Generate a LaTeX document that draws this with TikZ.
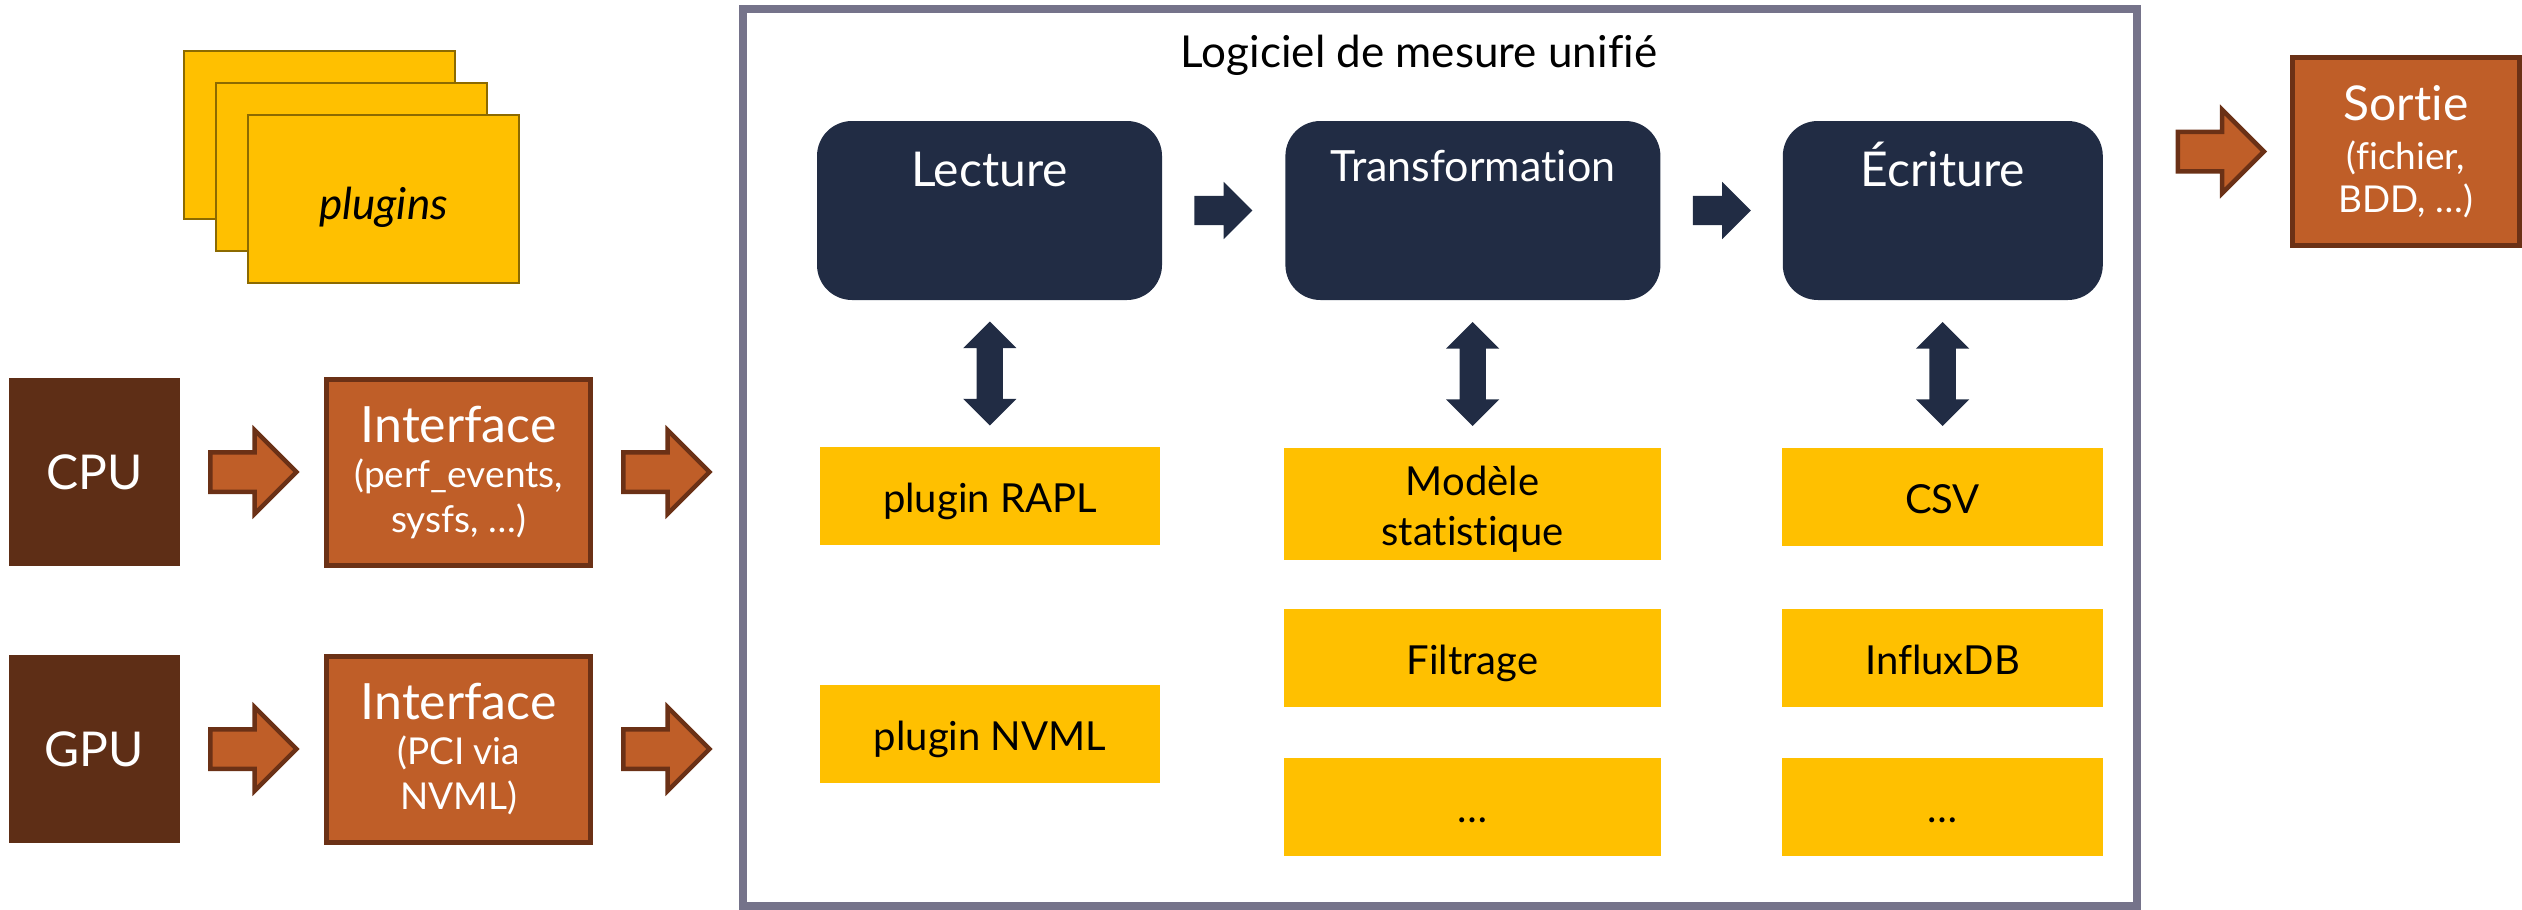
\documentclass[tikz,border=0pt]{standalone}
\usepackage{fontspec}
\setmainfont{Lato}[Ligatures=NoCommon]
\usetikzlibrary{positioning,shapes.arrows,calc}

\definecolor{navy}{HTML}{212C44}
\definecolor{rust}{HTML}{BF5E28}
\definecolor{rustdark}{HTML}{6B3116}
\definecolor{chip}{HTML}{5E2E16}
\definecolor{amber}{HTML}{FFC000}
\definecolor{amberline}{HTML}{8C6A00}
\definecolor{framegray}{HTML}{75738A}
\newcommand{\fsz}[2]{\fontsize{#1}{#2}\selectfont}

\begin{document}
\begin{tikzpicture}[x=1pt,y=-1pt,
		hw/.style={rectangle,fill=chip,text=white,minimum width=171pt,minimum height=188pt,inner sep=0pt,font=\fsz{48}{58}},
		iface/.style={rectangle,draw=rustdark,line width=5pt,fill=rust,text=white,minimum width=264pt,minimum height=186pt,inner sep=0pt,align=center,font=\fsz{37}{45}},
		stage/.style={rectangle,rounded corners=35pt,fill=navy,minimum height=179pt,inner sep=0pt},
		stagelabel/.style={anchor=base,text=white,inner sep=0pt},
		plugbase/.style={rectangle,fill=amber,minimum height=98pt,inner sep=0pt,align=center,font=\fsz{40}{50}},
		plug/.style={plugbase,text height=40pt,text depth=8pt},
		card/.style={rectangle,fill=amber,draw=amberline,line width=1.5pt,minimum width=271pt,minimum height=168pt,inner sep=0pt},
		fatarrow/.style={single arrow,fill=rust,draw=rustdark,line width=4.5pt,inner xsep=0pt,inner ysep=17.5pt,minimum height=86pt,minimum width=79pt,single arrow head extend=22pt},
		navarrow/.style={single arrow,fill=navy,inner xsep=0pt,inner ysep=14.5pt,minimum height=58pt,minimum width=57pt,single arrow head extend=14pt},
		updown/.style={double arrow,rotate=90,fill=navy,inner xsep=0pt,inner ysep=13pt,minimum height=104pt,minimum width=53pt,double arrow head extend=13.5pt}]
	\useasboundingbox (0,0) rectangle (2522,910);

	\node[draw=framegray,line width=8pt,minimum width=1394pt,minimum height=897pt,
		label={[anchor=base,inner sep=0pt,font=\fsz{44}{53},xshift=-21pt,yshift=-62pt]north:Logiciel de mesure unifié}] (frame) at (1440,457.5) {};

	\node[card]					(card1)	at (319.5,135)	{};
	\node[card]					(card2)	at ($(card1)+(32,32)$)	{};
	\node[card,font=\fsz{44}{52}\itshape,text height=48pt,text depth=8pt]	(card3)	at ($(card2)+(32,32)$)	{plugins};

	\node[hw]							(cpu)	at (94.5,472)	{CPU};
	\node[hw]							(gpu)	at (94.5,749)	{GPU};
	\node[iface,right=144pt of cpu]		(if1)	{{\fsz{50}{60}Interface}\\(perf\_events,\\sysfs, \ldots)};
	\node[iface,right=144pt of gpu]		(if2)	{{\fsz{50}{60}Interface}\\(PCI via\\NVML)};

	\node[stage,minimum width=345pt,label={[stagelabel,font=\fsz{48}{58},yshift=-66pt]north:Lecture}]			(lecture)	at (989.5,210.5)	{};
	\node[stage,minimum width=375pt,right=123pt of lecture,label={[stagelabel,font=\fsz{43}{52},yshift=-61pt]north:Transformation}]	(transfo)	{};
	\node[stage,minimum width=320pt,right=122pt of transfo,label={[stagelabel,font=\fsz{48}{58},yshift=-66pt]north:Écriture}]		(ecriture)	{};

	\node[plug,minimum width=340pt]							(rapl)		at (990,496)	{plugin RAPL};
	\node[plug,minimum width=340pt,below=140pt of rapl]		(nvml)		{plugin NVML};
	\node[plugbase,minimum width=377pt,minimum height=112pt]	(modele)	at (1472.5,504)	{\rule{0pt}{1em}Modèle\\statistique\rule[-0.2em]{0pt}{0.2em}};
	\node[plug,minimum width=377pt,below=49pt of modele]		(filtrage)	{Filtrage};
	\node[plug,minimum width=377pt,below=50pt of filtrage]	(etcA)		{\ldots};
	\node[plug,minimum width=321pt]							(csv)		at (1942.5,497)	{CSV};
	\node[plug,minimum width=321pt,below=63pt of csv]		(influx)	{InfluxDB};
	\node[plug,minimum width=321pt,below=50pt of influx]		(etcB)		{\ldots};

	\node[iface,minimum width=227pt,minimum height=188pt,font=\fsz{37}{43}]	(sortie)	at (2406,151.5)	{{\fsz{48}{58}Sortie}\\[6pt](fichier,\\BDD, \ldots)};

	\node[fatarrow,right=28pt of cpu]	(a1)	{};
	\node[fatarrow,right=28pt of gpu]	(a2)	{};
	\node[fatarrow,right=28pt of if1]	(a3)	{};
	\node[fatarrow,right=28pt of if2]	(a4)	{};
	\node[fatarrow,left=23pt of sortie]	(a5)	{};

	\node[navarrow,right=32pt of lecture]	(n1)	{};
	\node[navarrow,right=32pt of transfo]	(n2)	{};

	\node[updown]	(d1)	at ($(lecture.south)!0.5!(rapl.north)$)		{};
	\node[updown]	(d2)	at ($(transfo.south)!0.5!(modele.north)$)	{};
	\node[updown]	(d3)	at ($(ecriture.south)!0.5!(csv.north)$)		{};
\end{tikzpicture}
\end{document}
